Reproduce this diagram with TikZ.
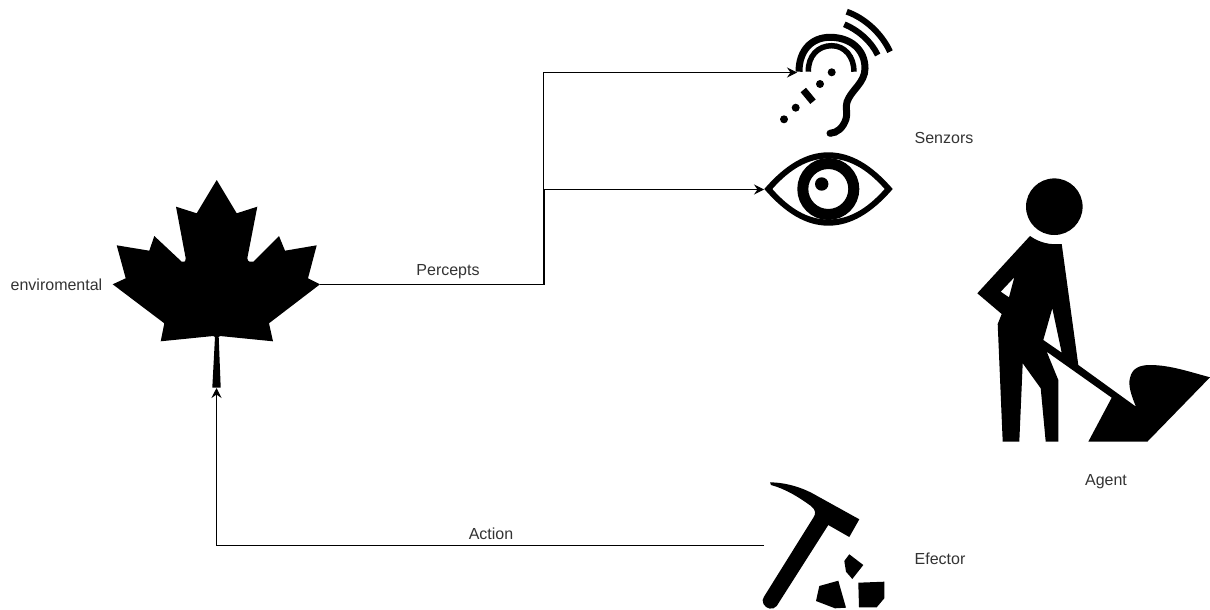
\documentclass[tikz,border=0pt]{standalone}
\usepackage{fontspec}
\setmainfont{Liberation Sans}
\usepackage{tikz}
\usetikzlibrary{arrows.meta}
\definecolor{labelgray}{HTML}{333333}
\tikzset{
  lbl/.style={text=labelgray,font=\fontsize{16}{18}\selectfont,inner sep=0pt},
  conn/.style={draw=black,line width=1pt,-{Stealth[length=10pt,width=10pt,inset=3.5pt]}},
  icon/.style={line width=7pt,line cap=butt},
  iconthin/.style={line width=5.5pt,line cap=butt},
}
\begin{document}
\begin{tikzpicture}[x=1pt,y=-1pt,fill=black]
\useasboundingbox (0,0) rectangle (1210,610);
% leaf
\fill (216.7,180) -- (236.7,213.3) -- (257.3,206.7) -- (247.3,258.3)
   .. controls (247.5,262) and (251,262.5) .. (253.3,261.7)
   -- (279,236) -- (285,250.7) -- (316.7,245.3) -- (308,278.3) -- (320,284.3)
   -- (269,323.3) -- (273,341.3) -- (220,336) -- (218.7,337) -- (220.7,387.7)
   -- (212.3,387.7) -- (215,337) -- (213.3,336) -- (160.7,341.3) -- (164.3,323.3)
   -- (112.7,284.3) -- (125.7,278.3) -- (116.7,245.3) -- (149.3,250.7)
   -- (154.3,236) -- (181.7,261.7)
   .. controls (184,262.5) and (185.5,262) .. (185.7,258.3)
   -- (176,206.7) -- (196.7,213.3) -- cycle;
% ear
\draw[icon] (799,71.7) .. controls (799,50) and (812,37.3) .. (830,37.3)
   .. controls (851,37.3) and (865,50) .. (865,68.3)
   .. controls (865,83) and (851,90) .. (847,102)
   .. controls (845,108) and (848,113) .. (846,119)
   .. controls (843,128) and (837,133) .. (830,133.3);
\fill (830,133.3) circle (3.5);
\draw[iconthin] (808.3,71.7) .. controls (808,56) and (818,45.7) .. (831.7,45.7)
   .. controls (845,45.7) and (854,57) .. (854,71.7);
\draw[iconthin,line width=6pt] (846.7,11.7) .. controls (865,18) and (882,34) .. (890,51.7);
\draw[iconthin,line width=6pt] (844.3,24.3) .. controls (858,30) and (871,41) .. (877.7,55);
\fill (831.7,72.3) circle (4) (820,84) circle (4) (795.7,107.7) circle (4) (784,119.3) circle (4);
\draw[line width=7pt] (803.3,90) -- (813,101.7);
% eye
\fill[even odd rule] (764.3,189) .. controls (785,165) and (806,152.3) .. (828.3,152.3)
   .. controls (851,152.3) and (872,165) .. (892.7,189)
   .. controls (872,213) and (851,225.7) .. (828.3,225.7)
   .. controls (806,225.7) and (785,213) .. (764.3,189) -- cycle
   (772.3,189) .. controls (790,169) and (808,158.5) .. (828.3,158.5)
   .. controls (849,158.5) and (867,169) .. (884.7,189)
   .. controls (867,209) and (849,219.5) .. (828.3,219.5)
   .. controls (808,219.5) and (790,209) .. (772.3,189) -- cycle;
\draw[line width=11pt] (828.3,189) circle (25.5);
\fill (821.7,184) circle (6.7);
% agent
\fill (1054.3,206.7) circle (28.3);
\fill[even odd rule] (1030,236) .. controls (1040,243) and (1050,245) .. (1061.7,244)
   -- (1078.3,365) -- (1136,406.7)
   .. controls (1131,395) and (1128,385) .. (1130,378)
   .. controls (1132,368) and (1140,365) .. (1150,365)
   .. controls (1170,365) and (1190,372) .. (1210,377.3)
   -- (1147.3,441.7) -- (1088.3,441.7) -- (1111.7,397.7) -- (1046.7,351.7)
   -- (1058.3,380) -- (1058.3,441.7) -- (1045.7,441.7) -- (1040.7,388.3)
   -- (1022.7,363.3) -- (1019.3,441.7) -- (1002.7,441.7) -- (997.7,324)
   -- (1001.7,314) -- (977.3,293.3) -- cycle
   (1014.3,277.3) -- (1000.7,291.7) -- (1009,297.3) -- cycle
   (1052.3,308.3) -- (1043.3,340) -- (1061.7,352.7) -- cycle;
% hammer
\fill (770,482.3) .. controls (785,482.5) and (802,487) .. (816.7,495.7)
   -- (859.3,519.3) -- (849.3,537) -- (828.3,525) -- (776.7,606)
   .. controls (773,610.5) and (766,609) .. (763.5,604)
   .. controls (762,601) and (762.5,599) .. (764,596.7)
   -- (813.3,517.7) .. controls (816,514) and (816,510) .. (811,506)
   .. controls (800,498) and (786,489) .. (771,485) -- cycle;
\fill (849.3,554.3) -- (863.3,565) -- (852.3,579) -- (846,571.7) -- (844.3,561) -- cycle;
\fill (819.3,586) -- (838.3,580.7) -- (846,607.7) -- (835,608.3) -- (816,601) -- cycle;
\fill (858.3,582.7) -- (884.3,581.7) -- (884.3,598.3) -- (876.7,607.3) -- (859,607.3) -- cycle;
% connectors
\coordinate (leafright) at (320,284.5);
\coordinate (leafstem) at (216.5,388);
\coordinate (earin) at (797,72.5);
\coordinate (eyein) at (764,189.5);
\coordinate (hammerin) at (764,545.5);
\draw[conn] (leafright) -- (543.5,284.5) -- (543.5,72.5) -- (earin);
\draw[conn] (leafright) -- (544.5,284.5) -- (544.5,189.5) -- (eyein);
\draw[conn] (hammerin) -- (216.5,545.5) -- (leafstem);
% labels
\node[lbl] (envlabel) at (56.5,284.5) {enviromental};
\node[lbl] (perceptslabel) at (448,271.5) {Percepts};
\node[lbl] (actionlabel) at (491,534) {Action};
\node[lbl] (senzorslabel) at (944,138) {Senzors};
\node[lbl] (efectorlabel) at (940,559) {Efector};
\node[lbl] (agentlabel) at (1106,481.5) {Agent};
\end{tikzpicture}
\end{document}
